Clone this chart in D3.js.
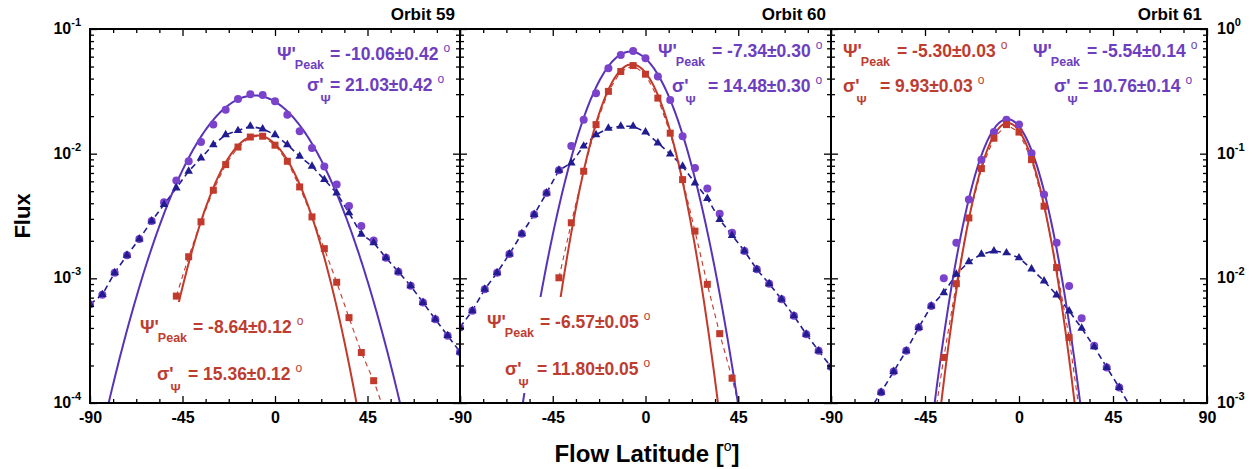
<!DOCTYPE html>
<meta charset="utf-8">
<style>
body { margin: 0; background: #fff; }
svg { display: block; font-family: "Liberation Sans", Arial, sans-serif; }
</style>
<svg width="1255" height="469"></svg>
<script src="https://d3js.org/d3.v7.min.js"></script>
<script>

// ---- data ----
var orbits = ["Orbit 59", "Orbit 60", "Orbit 61"];

var lat = [-90,-84,-78,-72,-66,-60,-54,-48,-42,-36,-30,-24,-18,-12,-6,0,6,12,18,24,30,36,42,48,54,60,66,72,78,84,90];

var purple59 = [6.2e-4,7.4e-4,1.11e-3,1.53e-3,2.07e-3,2.88e-3,4.07e-3,6.08e-3,8.69e-3,1.24e-2,1.71e-2,2.25e-2,2.75e-2,3.0e-2,2.96e-2,2.63e-2,2.05e-2,1.51e-2,1.11e-2,7.9e-3,5.65e-3,3.8e-3,2.63e-3,2.01e-3,1.46e-3,1.13e-3,8.7e-4,6.4e-4,4.7e-4,3.47e-4,2.57e-4];
var blue59 = [6.2e-4,7.4e-4,1.11e-3,1.53e-3,2.07e-3,2.88e-3,3.91e-3,5.31e-3,7.23e-3,9.23e-3,1.18e-2,1.42e-2,1.53e-2,1.66e-2,1.58e-2,1.42e-2,1.18e-2,9.53e-3,7.94e-3,6.19e-3,4.84e-3,3.35e-3,2.26e-3,1.93e-3,1.46e-3,1.13e-3,8.7e-4,6.4e-4,4.7e-4,3.47e-4,2.57e-4];
var redLat59 = [-48,-42,-36,-30,-24,-18,-12,-6,0,6,12,18,24,30,36,42,48,54];
var red59 = [7.2e-4,1.49e-3,2.84e-3,5.09e-3,8.17e-3,1.13e-2,1.36e-2,1.38e-2,1.17e-2,8.69e-3,5.41e-3,3.11e-3,1.73e-3,9.3e-4,4.84e-4,2.54e-4,1.51e-4,7.9e-5];

var purple60 = [4.04e-4,5.5e-4,8.17e-4,1.11e-3,1.57e-3,2.28e-3,3.25e-3,4.84e-3,7.36e-3,1.15e-2,1.87e-2,3.05e-2,4.84e-2,6.19e-2,6.67e-2,5.82e-2,4.16e-2,2.7e-2,1.38e-2,7.67e-3,5.25e-3,3.29e-3,2.32e-3,1.66e-3,1.18e-3,9.06e-4,6.79e-4,5.0e-4,3.56e-4,2.62e-4,1.95e-4];
var blue60 = [4.04e-4,5.5e-4,8.17e-4,1.11e-3,1.57e-3,2.28e-3,3.25e-3,4.84e-3,7.36e-3,8.41e-3,1.15e-2,1.42e-2,1.6e-2,1.66e-2,1.66e-2,1.49e-2,1.22e-2,9.93e-3,7.94e-3,5.82e-3,4.37e-3,2.96e-3,2.21e-3,1.66e-3,1.18e-3,9.06e-4,6.79e-4,5.0e-4,3.56e-4,2.62e-4,1.95e-4];
var redLat60 = [-42,-36,-30,-24,-18,-12,-6,0,6,12,18,24,30,36,42,48];
var red60 = [1.01e-3,2.79e-3,7.23e-3,1.71e-2,3.16e-2,4.56e-2,5.09e-2,4.34e-2,2.79e-2,1.46e-2,6.19e-3,2.39e-3,8.95e-4,3.6e-4,1.58e-4,6.3e-5];

var lat61 = [-72,-66,-60,-54,-48,-42,-36,-30,-24,-18,-12,-6,0,6,12,18,24,30,36,42,48,54];
var purple61 = [8.5e-4,1.22e-3,1.79e-3,2.62e-3,4.03e-3,6.01e-3,1.0e-2,1.93e-2,4.29e-2,8.95e-2,0.149,0.187,0.171,0.101,4.7e-2,1.93e-2,8.69e-3,4.79e-3,2.88e-3,1.93e-3,1.33e-3,8.9e-4];
var blue61 = [8.5e-4,1.22e-3,1.79e-3,2.62e-3,4.03e-3,6.01e-3,7.67e-3,1.08e-2,1.36e-2,1.56e-2,1.66e-2,1.6e-2,1.46e-2,1.19e-2,9.53e-3,7.36e-3,5.48e-3,3.98e-3,2.82e-3,1.93e-3,1.33e-3,8.9e-4];
var redLat61 = [-42,-36,-30,-24,-18,-12,-6,0,6,12,18,24,30];
var red61 = [5.0e-4,2.32e-3,9.06e-3,3.05e-2,7.59e-2,0.133,0.171,0.149,8.95e-2,3.79e-2,1.22e-2,3.35e-3,6.3e-4];

// Gaussian fit parameters (per orbit)
var peakPurple = [0.0293, 0.0659, 0.189];
var muPurple   = [-10.06, -7.34, -5.54];
var sigPurple  = [21.03, 14.48, 10.76];
var errPurple  = [0.42, 0.30, 0.14];
var peakRed = [0.0140, 0.0521, 0.176];
var muRed   = [-8.64, -6.57, -5.30];
var sigRed  = [15.36, 11.80, 9.93];
var errRed  = [0.12, 0.05, 0.03];

var xTicks = [-90, -45, 0, 45, 90];

// ---- layout ----
var svg = d3.select("svg"),
    plotTop = 29, plotBottom = 403,
    edges = [90, 460, 831, 1207];

var C = {dot: "#7b42cc", fitP: "#5833b8", textP: "#6d3ec0",
         navy: "#211d90", red: "#c23a2b", textR: "#bd3d31"};

// label placement: [purple, red] per panel
var annLayout = [
  [{l1: [277, 330, 60], l2: [307, 330, 91]}, {l1: [140, 193, 333], l2: [157, 188, 380], mask: true}],
  [{l1: [658, 712, 57], l2: [672, 708, 92]}, {l1: [487, 540, 328], l2: [505, 537, 375], mask: true}],
  [{l1: [1033, 1087, 57], l2: [1054, 1078, 92]}, {l1: [843, 897, 57], l2: [843, 880, 92]}]
];

var panels = [
  {lat: lat, purple: purple59, blue: blue59, redLat: redLat59, red: red59, yDom: [1e-4, 1e-1]},
  {lat: lat, purple: purple60, blue: blue60, redLat: redLat60, red: red60, yDom: [1e-4, 1e-1]},
  {lat: lat61, purple: purple61, blue: blue61, redLat: redLat61, red: red61, yDom: [1e-3, 1]}
];

function gauss(A, mu, s) {
  return function(t) { return A * Math.exp(-(t - mu) * (t - mu) / (2 * s * s)); };
}

function annotate(lay, color, lines) {
  var g = svg.append("g");
  var bg = g.append("rect").attr("fill", "#fff");
  [lay.l1, lay.l2].forEach(function(pos, k) {
    var L = lines[k];
    var sym = g.append("text").attr("x", pos[0]).attr("y", pos[2])
        .attr("fill", color).attr("font-size", 18).attr("font-weight", "bold").text(L.sym);
    var symEnd = pos[0] + sym.node().getComputedTextLength();
    g.append("text").attr("x", symEnd - (k ? 3 : 1)).attr("y", pos[2] + (k ? 13 : 9))
        .attr("fill", color).attr("font-size", 12.5).attr("font-weight", "bold").text(L.sub);
    var val = g.append("text").attr("x", pos[1]).attr("y", pos[2])
        .attr("fill", color).attr("font-size", 17.5).attr("font-weight", "bold").text(L.val);
    var valEnd = pos[1] + val.node().getComputedTextLength();
    g.append("text").attr("x", valEnd + 5).attr("y", pos[2] - 8)
        .attr("fill", color).attr("font-size", 12).text("o");
  });
  if (lay.mask) {
    var b = g.node().getBBox();
    bg.attr("x", b.x - 4).attr("y", b.y - 12).attr("width", b.width + 8).attr("height", b.height + 14);
  }
}

function fmt(v) { return v.toFixed(2); }

panels.forEach(function(p, i) {
  var x = d3.scaleLinear().domain([-90, 90]).range([edges[i], edges[i + 1]]);
  var y = d3.scaleLog().domain(p.yDom).range([plotBottom, plotTop]);

  svg.append("clipPath").attr("id", "clip" + i).append("rect")
      .attr("x", edges[i]).attr("y", plotTop)
      .attr("width", edges[i + 1] - edges[i]).attr("height", plotBottom - plotTop);

  var g = svg.append("g").attr("clip-path", "url(#clip" + i + ")");
  var line = d3.line().x(function(d) { return x(d[0]); }).y(function(d) { return y(d[1]); });

  var purplePts = p.lat.map(function(t, k) { return [t, p.purple[k]]; });
  var bluePts = p.lat.map(function(t, k) { return [t, p.blue[k]]; });
  var redPts = p.redLat.map(function(t, k) { return [t, p.red[k]]; });

  g.append("path").datum(bluePts).attr("d", line)
      .attr("fill", "none").attr("stroke", C.navy).attr("stroke-width", 1.6).attr("stroke-dasharray", "6,4");
  g.append("path").datum(redPts).attr("d", line)
      .attr("fill", "none").attr("stroke", C.red).attr("stroke-width", 1.1).attr("stroke-dasharray", "5,4");

  var fp = gauss(peakPurple[i], muPurple[i], sigPurple[i]);
  g.append("path").datum(d3.range(-90, 90.01, 0.5).map(function(t) { return [t, fp(t)]; }))
      .attr("d", line).attr("fill", "none").attr("stroke", C.fitP).attr("stroke-width", 2);

  var fr = gauss(peakRed[i], muRed[i], sigRed[i]);
  var r0 = d3.min(p.redLat), r1 = d3.max(p.redLat);
  g.append("path").datum(d3.range(r0, r1 + 0.01, 0.5).map(function(t) { return [t, fr(t)]; }))
      .attr("d", line).attr("fill", "none").attr("stroke", C.red).attr("stroke-width", 2);

  g.selectAll(".pc").data(purplePts).join("circle")
      .attr("cx", function(d) { return x(d[0]); }).attr("cy", function(d) { return y(d[1]); })
      .attr("r", 4).attr("fill", C.dot);
  g.selectAll(".bt").data(bluePts).join("path")
      .attr("d", d3.symbol().type(d3.symbolTriangle).size(32))
      .attr("transform", function(d) { return "translate(" + x(d[0]) + "," + y(d[1]) + ")"; })
      .attr("fill", C.navy);
  g.selectAll(".rs").data(redPts).join("rect")
      .attr("x", function(d) { return x(d[0]) - 3.5; }).attr("y", function(d) { return y(d[1]) - 3.5; })
      .attr("width", 7).attr("height", 7).attr("fill", C.red);

  // annotations
  var lay = annLayout[i];
  annotate(lay[0], C.textP, [
    {sym: "\u03A8'", sub: "Peak", val: "= " + fmt(muPurple[i]) + "\u00B1" + fmt(errPurple[i])},
    {sym: "\u03C3'", sub: "\u03A8", val: "= " + fmt(sigPurple[i]) + "\u00B1" + fmt(errPurple[i])}
  ]);
  annotate(lay[1], C.textR, [
    {sym: "\u03A8'", sub: "Peak", val: "= " + fmt(muRed[i]) + "\u00B1" + fmt(errRed[i])},
    {sym: "\u03C3'", sub: "\u03A8", val: "= " + fmt(sigRed[i]) + "\u00B1" + fmt(errRed[i])}
  ]);

  // ticks
  var minorX = d3.range(-90, 90.01, 11.25).filter(function(v) { return v % 45 !== 0; });
  var yt = y.ticks();
  var isDecade = function(v) { var l = Math.log10(v); return Math.abs(l - Math.round(l)) < 1e-6; };
  var yMajor = yt.filter(isDecade), yMinor = yt.filter(function(v) { return !isDecade(v); });

  function ticks(axis, vals, size, tr, fmtFn) {
    var a = svg.append("g").attr("transform", tr)
        .call(axis.tickValues(vals).tickSizeInner(-size).tickSizeOuter(0).tickPadding(9)
              .tickFormat(fmtFn || function() { return ""; }));
    a.select(".domain").remove();
    a.selectAll("line").attr("stroke", "#000").attr("stroke-width", 1.3);
    a.selectAll("text").attr("font-family", "Liberation Sans, Arial, sans-serif")
        .attr("font-size", 16).attr("font-weight", "bold").attr("fill", "#000");
    return a;
  }
  ticks(d3.axisBottom(x), xTicks, 7, "translate(0," + plotBottom + ")",
        function(d) { return (d === 90 && i < 2) ? "" : d; });
  ticks(d3.axisBottom(x), minorX, 4, "translate(0," + plotBottom + ")");
  ticks(d3.axisTop(x), xTicks, 7, "translate(0," + plotTop + ")");
  ticks(d3.axisTop(x), minorX, 4, "translate(0," + plotTop + ")");
  ticks(d3.axisLeft(y), yMajor, 7, "translate(" + edges[i] + ",0)");
  ticks(d3.axisLeft(y), yMinor, 4, "translate(" + edges[i] + ",0)");
  ticks(d3.axisRight(y), yMajor, 7, "translate(" + edges[i + 1] + ",0)");
  ticks(d3.axisRight(y), yMinor, 4, "translate(" + edges[i + 1] + ",0)");

  // decade labels
  if (i !== 1) {
    var left = i === 0;
    yMajor.forEach(function(v) {
      var t = svg.append("text")
          .attr("x", left ? edges[0] - 9 : edges[3] + 10)
          .attr("y", y(v) + 5)
          .attr("text-anchor", left ? "end" : "start")
          .attr("font-size", 16).attr("font-weight", "bold").text("10");
      t.append("tspan").attr("dy", -8).attr("font-size", 11).text(Math.round(Math.log10(v)));
    });
  }

  // frame + title
  svg.append("rect").attr("x", edges[i]).attr("y", plotTop)
      .attr("width", edges[i + 1] - edges[i]).attr("height", plotBottom - plotTop)
      .attr("fill", "none").attr("stroke", "#000").attr("stroke-width", 2);
  svg.append("text").attr("x", edges[i + 1] - 5).attr("y", 20).attr("text-anchor", "end")
      .attr("font-size", 17).attr("font-weight", "bold").text(orbits[i]);
});

svg.append("text").attr("transform", "translate(30,216) rotate(-90)")
    .attr("text-anchor", "middle").attr("font-size", 22).attr("font-weight", "bold").text("Flux");

var xl = svg.append("text").attr("x", 647).attr("y", 462).attr("text-anchor", "middle")
    .attr("font-size", 24).attr("font-weight", "bold").text("Flow Latitude [");
xl.append("tspan").attr("dy", -11).attr("font-size", 14).attr("font-weight", "normal").text("o");
xl.append("tspan").attr("dy", 11).text("]");

</script>
